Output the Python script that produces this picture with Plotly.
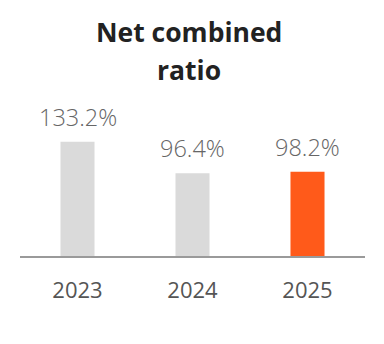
import plotly.graph_objects as go

# Net combined ratio by year (%)
years = ["2023", "2024", "2025"]
ratios = [133.2, 96.4, 98.2]
label_text = ["133.2%", "96.4%", "98.2%"]
bar_colors = ["#dadada", "#dadada", "#ff5a1a"]
title_lines = ["Net combined", "ratio"]

W, H = 384, 344
M_L, M_R, M_T, M_B = 20, 19, 100, 88
plot_h = H - M_T - M_B
y_max = 182.0


def paper_y(px):
    """Convert a pixel row (from top of page) to paper y coordinate."""
    return (H - M_B - px) / plot_h


fig = go.Figure(
    go.Bar(
        x=years,
        y=ratios,
        marker=dict(color=bar_colors, line=dict(width=0)),
        width=0.296,
        hoverinfo="skip",
    )
)

# value labels above each bar (x given as category index)
for i, (val, txt) in enumerate(zip(ratios, label_text)):
    fig.add_annotation(
        x=i, y=val, text=txt, showarrow=False,
        yanchor="bottom", yshift=7,
        font=dict(family="Open Sans", size=23.5, color="#666666", weight=300),
    )

# two-line bold heading
for line, py in zip(title_lines, [32, 70]):
    fig.add_annotation(
        xref="paper", yref="paper", x=0.49, y=paper_y(py),
        text=f"<b>{line}</b>", showarrow=False, yanchor="middle",
        font=dict(family="Open Sans", size=26.5, color="#222222"),
    )

fig.update_layout(
    width=W, height=H,
    margin=dict(l=M_L, r=M_R, t=M_T, b=M_B, pad=0),
    paper_bgcolor="white", plot_bgcolor="white",
    showlegend=False,
    xaxis=dict(
        type="category", categoryorder="array", categoryarray=years,
        range=[-0.5, len(years) - 0.5], autorange=False,
        showline=True, linecolor="#9a9a9a", linewidth=2,
        showgrid=False, ticks="", ticklabelstandoff=14,
        tickfont=dict(family="Open Sans", size=22, color="#555555"),
    ),
    yaxis=dict(range=[0, y_max], autorange=False, visible=False,
               showgrid=False, zeroline=False),
)

fig.write_html("out.html")
